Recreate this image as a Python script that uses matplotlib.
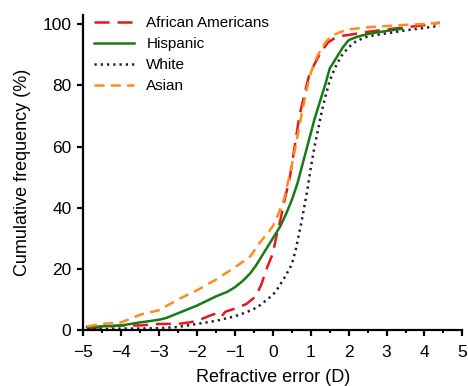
import matplotlib
matplotlib.use("Agg")
import matplotlib.pyplot as plt
from matplotlib.ticker import MultipleLocator

plt.rcParams["font.family"] = ["Liberation Sans", "DejaVu Sans"]

# African Americans
aa_x = [-4.9, -4.5, -4.0, -3.5, -3.0, -2.5, -2.2, -2.0, -1.8, -1.6, -1.45, -1.35, -1.25, -1.0, -0.7,
        -0.45, -0.3, -0.15, 0.0, 0.1, 0.2, 0.3, 0.45, 0.55, 0.7, 0.85, 0.95, 1.1, 1.25, 1.45, 1.7,
        2.0, 2.5, 3.0, 3.5, 4.0, 4.4]
aa_y = [0.5, 1.0, 1.5, 1.5, 2.0, 2.0, 2.5, 3.0, 4.0, 5.0, 5.5, 4.5, 6.0, 7.0, 8.5,
        11.0, 15.0, 20.5, 25.0, 31.0, 36.0, 42.0, 50.0, 58.0, 70.0, 78.0, 83.0, 87.0, 90.5, 94.0, 96.0,
        96.5, 97.5, 98.3, 99.0, 99.7, 100.5]

# Hispanic
hi_x = [-4.9, -4.5, -4.0, -3.5, -3.2, -2.95, -2.8, -2.5, -2.2, -2.0, -1.7, -1.5, -1.2, -1.0, -0.8,
        -0.6, -0.45, -0.3, -0.1, 0.0, 0.2, 0.35, 0.5, 0.65, 0.8, 0.95, 1.1, 1.25, 1.4, 1.5, 1.7,
        1.85, 2.0, 2.2, 2.5, 3.0, 3.4]
hi_y = [1.0, 1.2, 1.5, 2.5, 3.0, 3.5, 4.0, 5.5, 7.0, 8.0, 9.8, 11.0, 12.5, 14.0, 16.0,
        18.5, 21.0, 24.0, 28.0, 30.0, 34.0, 38.0, 42.5, 48.0, 55.0, 62.0, 69.0, 75.0, 81.0, 85.5, 89.5,
        92.5, 94.8, 95.8, 96.8, 97.8, 98.5]

# White
wh_x = [-4.9, -4.5, -4.0, -3.5, -3.0, -2.5, -2.0, -1.5, -1.0, -0.7, -0.4, -0.2, 0.0, 0.1, 0.2,
        0.35, 0.5, 0.6, 0.75, 0.9, 1.0, 1.1, 1.2, 1.3, 1.4, 1.5, 1.65, 1.8, 2.0, 2.2, 2.5, 3.0, 3.5,
        4.0, 4.4]
wh_y = [0.2, 0.3, 0.5, 0.5, 0.6, 1.0, 2.0, 3.0, 4.5, 5.8, 7.5, 9.5, 11.5, 13.0, 15.0,
        18.0, 21.5, 26.0, 35.0, 45.0, 53.0, 60.0, 66.0, 72.0, 77.0, 81.5, 86.0, 89.5, 92.5, 94.5, 96.0, 97.0, 98.0,
        98.8, 99.5]

# Asian
as_x = [-4.9, -4.5, -4.0, -3.5, -3.0, -2.5, -2.0, -1.5, -1.0, -0.6, -0.35, -0.15, 0.0, 0.15, 0.3,
        0.45, 0.6, 0.75, 0.9, 1.0, 1.15, 1.3, 1.45, 1.6, 1.8, 2.0, 2.5, 3.0, 3.5, 4.0, 4.4]
as_y = [1.2, 2.0, 2.5, 5.0, 6.5, 10.0, 13.0, 16.5, 20.5, 24.0, 28.5, 31.5, 34.0, 38.0, 43.0,
        51.0, 60.0, 70.0, 79.0, 84.0, 89.0, 92.5, 95.0, 96.5, 97.5, 98.3, 99.0, 99.4, 99.8, 100.1, 100.5]

fig = plt.figure(figsize=(4.68, 3.86), dpi=100)
ax = fig.add_axes([0.178, 0.145, 0.81, 0.816])

ax.plot(aa_x, aa_y, color="#e8151b", lw=1.8, dashes=(6, 3.2), label="African Americans", clip_on=False)
ax.plot(hi_x, hi_y, color="#167a16", lw=1.8, label="Hispanic", clip_on=False)
ax.plot(wh_x, wh_y, color="#222222", lw=1.8, dashes=(0.9, 1.6), label="White", clip_on=False)
ax.plot(as_x, as_y, color="#ff8c1a", lw=1.8, dashes=(4, 2.5), label="Asian", clip_on=False)

ax.set_xlim(-5, 5)
ax.set_ylim(0, 103)
ax.set_xticks(range(-5, 6))
ax.set_xticklabels([str(v).replace("-", "\u2212") for v in range(-5, 6)])
ax.set_yticks(range(0, 101, 20))
ax.xaxis.set_minor_locator(MultipleLocator(0.5))

for s in ["top", "right"]:
    ax.spines[s].set_visible(False)
for s in ["left", "bottom"]:
    ax.spines[s].set_linewidth(1.6)

ax.tick_params(axis="both", which="major", direction="out", length=4.5, width=1.6,
               labelsize=12.5, colors="black")
ax.tick_params(axis="x", which="major", pad=6)
ax.tick_params(axis="y", which="major", pad=4)
ax.tick_params(axis="x", which="minor", direction="out", length=2.5, width=1.4)

ax.set_xlabel("Refractive error (D)", fontsize=13, labelpad=7)
ax.set_ylabel("Cumulative frequency (%)", fontsize=13, labelpad=8)

ax.legend(loc="upper left", bbox_to_anchor=(0.005, 1.025), frameon=False, fontsize=11,
          handlelength=2.6, handletextpad=0.8, labelspacing=0.45, borderaxespad=0.2)

fig.savefig("out.png", dpi=100)
